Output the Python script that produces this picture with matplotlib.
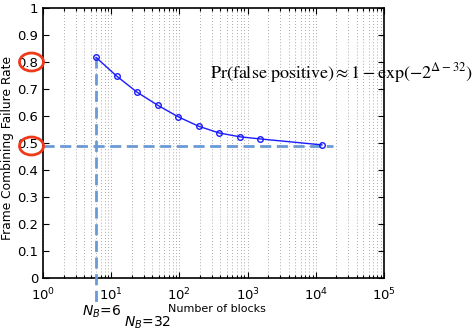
import matplotlib
matplotlib.use("Agg")
import matplotlib.pyplot as plt
from matplotlib.patches import Ellipse
from matplotlib.ticker import LogLocator, NullFormatter

blocks = [6, 12, 24, 48, 96, 192, 384, 768, 1536, 12288]
fail_rate = [0.817, 0.748, 0.688, 0.640, 0.597, 0.562, 0.537, 0.523, 0.515, 0.493]
yticks = [0, 0.1, 0.2, 0.3, 0.4, 0.5, 0.6, 0.7, 0.8, 0.9, 1]
ytick_labels = ["0", "0.1", "0.2", "0.3", "0.4", "0.5", "0.6", "0.7", "0.8", "0.9", "1"]
hline_y = 0.49
vline_x = 6

fig = plt.figure(figsize=(4.76, 3.32), dpi=100)
ax = fig.add_axes([43/476, 1-278/332, (384-43)/476, (278-8)/332])
ax.set_xscale("log")
ax.set_xlim(1, 1e5)
ax.set_ylim(0, 1)

ax.xaxis.set_major_locator(LogLocator(base=10, numticks=10))
ax.xaxis.set_minor_locator(LogLocator(base=10, subs=range(2, 10), numticks=10))
ax.xaxis.set_minor_formatter(NullFormatter())
ax.set_yticks(yticks)
ax.set_yticklabels(ytick_labels)
ax.grid(True, which="both", axis="x", color="#7a7a7a", linestyle=(0, (1, 3)), linewidth=0.55)
ax.tick_params(which="both", direction="in", top=True, right=True, labelsize=9.5, width=0.8)
ax.tick_params(axis="x", which="major", pad=6)
ax.tick_params(which="minor", length=2)
ax.tick_params(which="major", length=4)
for s in ax.spines.values():
    s.set_linewidth(1.2)

ax.plot(blocks, fail_rate, color="#1a1aff", lw=1, marker="o", markersize=4,
        markerfacecolor="none", markeredgewidth=1, zorder=4)

dash_col = "#6a9ad6"
ax.plot([1, 17800], [hline_y, hline_y], color=dash_col, lw=2, ls=(0, (4, 2)), clip_on=False, zorder=3)
ax.plot([vline_x, vline_x], [fail_rate[0], -0.1], color=dash_col, lw=2, ls=(0, (4, 2)), clip_on=False, zorder=3)

ax.set_xlabel("Number of blocks", fontsize=8)
ax.xaxis.label.set_va("center")
ax.xaxis.set_label_coords((217-43)/341, -(309-278)/270)
ax.set_ylabel("Frame Combining Failure Rate", fontsize=8.8)
ax.yaxis.set_label_coords(-(43-14)/341, 0.48)

fig.text(210/476, 1-73/332, r"$\mathrm{Pr}\left(\mathrm{false\ positive}\right)\approx 1-\mathrm{exp}\left(-2^{\Delta-32}\right)$",
         fontsize=13, va="center", ha="left", family="serif",
         math_fontfamily="stix")

fig.text(82/476, 1-312/332, r"$N_B$=6", fontsize=10, va="center", ha="left")
fig.text(124/476, 1-323/332, r"$N_B$=32", fontsize=10, va="center", ha="left")

for cy in (62, 146):
    e = Ellipse((31.5/476, 1-cy/332), 24/476, 18/332, transform=fig.transFigure,
                fill=False, edgecolor="#ee3a1a", lw=2)
    fig.add_artist(e)

fig.savefig("out.png", dpi=100)
